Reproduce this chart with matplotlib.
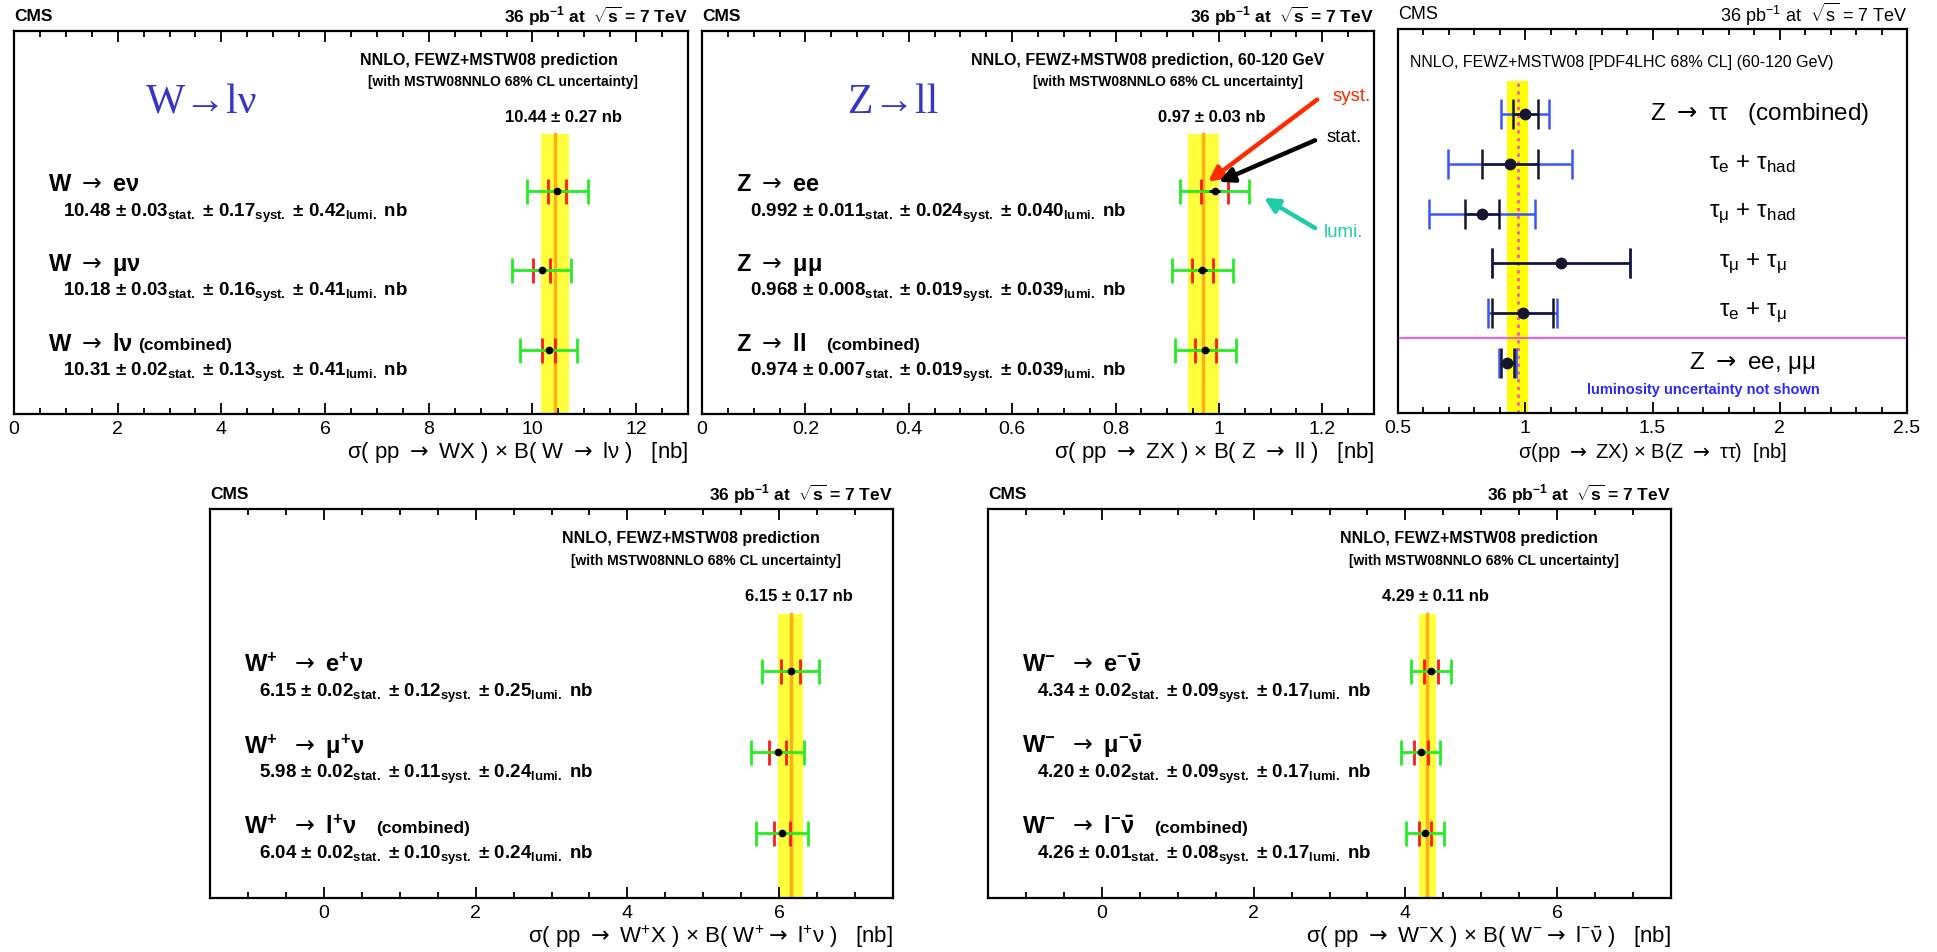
import numpy as np
import matplotlib.pyplot as plt
from matplotlib import font_manager
from matplotlib.ticker import MultipleLocator, FuncFormatter

# narrow bold sans for the ROOT-style panels, plain sans for the tau panel
installed = {f.name for f in font_manager.fontManager.ttflist}
narrow = "Liberation Sans Narrow" if "Liberation Sans Narrow" in installed else "Liberation Sans"
NARROW = [narrow, "DejaVu Sans"]
PLAIN = ["Liberation Sans", "DejaVu Sans"]

plt.rcParams["font.family"] = NARROW
plt.rcParams["mathtext.fontset"] = "custom"
plt.rcParams["mathtext.default"] = "regular"

TO = r"$\mathrm{\rightarrow}$"

# ---- measurements (nb) ----
w_labels = [f"W {TO} eν", f"W {TO} μν", f"W {TO} lν"]
w_xsec = [10.48, 10.18, 10.31]
w_stat = [0.03, 0.03, 0.02]
w_syst = [0.17, 0.16, 0.13]
w_lumi = [0.42, 0.41, 0.41]
w_theory = [10.44, 0.27]

z_labels = [f"Z {TO} ee", f"Z {TO} μμ", f"Z {TO} ll"]
z_xsec = [0.992, 0.968, 0.974]
z_stat = [0.011, 0.008, 0.007]
z_syst = [0.024, 0.019, 0.019]
z_lumi = [0.040, 0.039, 0.039]
z_theory = [0.97, 0.03]

wp_labels = [f"W$^{{+}}$  {TO} e$^{{+}}$ν", f"W$^{{+}}$  {TO} μ$^{{+}}$ν", f"W$^{{+}}$  {TO} l$^{{+}}$ν"]
wp_xsec = [6.15, 5.98, 6.04]
wp_stat = [0.02, 0.02, 0.02]
wp_syst = [0.12, 0.11, 0.10]
wp_lumi = [0.25, 0.24, 0.24]
wp_theory = [6.15, 0.17]

wm_labels = [f"W$^{{-}}$  {TO} e" + r"$^{-}\bar{\nu}$",
             f"W$^{{-}}$  {TO} μ" + r"$^{-}\bar{\nu}$",
             f"W$^{{-}}$  {TO} l" + r"$^{-}\bar{\nu}$"]
wm_xsec = [4.34, 4.20, 4.26]
wm_stat = [0.02, 0.02, 0.01]
wm_syst = [0.09, 0.09, 0.08]
wm_lumi = [0.17, 0.17, 0.17]
wm_theory = [4.29, 0.11]

tau_labels = [f"Z {TO} ττ   (combined)",
              r"τ$_{e}$ + τ$_{had}$",
              r"τ$_{\mu}$ + τ$_{had}$",
              r"τ$_{\mu}$ + τ$_{\mu}$",
              r"τ$_{e}$ + τ$_{\mu}$",
              f"Z {TO} ee, μμ"]
tau_xsec = [1.00, 0.94, 0.83, 1.14, 0.99, 0.93]
tau_stat = [0.05, 0.11, 0.067, 0.27, 0.12, 0.025]
tau_total = [0.094, 0.245, 0.207, 0.27, 0.135, 0.032]
tau_theory = [0.97, 0.04]

LUMI_TEXT = r"36 pb$^{-1}$ at  $\sqrt{s}$ = 7 TeV"

fig = plt.figure(figsize=(19.37, 9.52), dpi=100)
fig.patch.set_facecolor("white")


def pixel_axes(left, top, right, bottom):
    W, H = 1937, 952
    return fig.add_axes([left / W, 1 - bottom / H, (right - left) / W, (bottom - top) / H])


def style_axes(ax, xlim, ylim, major, minor, family):
    ax.set_xlim(*xlim)
    ax.set_ylim(*ylim)
    ax.set_yticks([])
    ax.xaxis.set_major_locator(MultipleLocator(major))
    ax.xaxis.set_minor_locator(MultipleLocator(minor))
    ax.xaxis.set_major_formatter(FuncFormatter(lambda v, p: f"{v:g}"))
    ax.tick_params(axis="x", which="both", direction="in", top=True, bottom=True,
                   labelsize=14, pad=5, labelfontfamily=family)
    ax.tick_params(axis="x", which="major", length=8, width=1.3)
    ax.tick_params(axis="x", which="minor", length=4, width=1.3)
    for s in ax.spines.values():
        s.set_linewidth(1.6)


def xsec_panel(ax, labels, xsec, stat, syst, lumi, theory, xlim, major, minor,
               digits, header, big_title, xlabel, gap):
    Y_LOW, Y_HIGH, BAND_TOP = 0.2, 5.0, 3.71
    style_axes(ax, xlim, (Y_LOW, Y_HIGH), major, minor, NARROW)
    xsec, stat, syst, lumi = map(np.asarray, (xsec, stat, syst, lumi))
    rows = np.arange(len(xsec), 0, -1)

    # theory band with central value
    mid, err = theory
    ax.fill_betweenx([Y_LOW, BAND_TOP], mid - err, mid + err, color="#ffff3c", lw=0, zorder=1)
    ax.plot([mid, mid], [Y_LOW, BAND_TOP], color="#ffae1a", lw=2.5, zorder=2)
    ax.annotate(f"{mid:.2f} ± {err:.2f} nb", xy=(mid, 3.92), xytext=(6, 0),
                textcoords="offset points", ha="center", va="center",
                fontsize=12, fontweight="bold")

    # stat (+) syst in red, plus lumi in green, stat in black
    inner = np.hypot(stat, syst)
    outer = inner + lumi
    ax.errorbar(xsec, rows, xerr=inner, fmt="none", ecolor="#ff1a1a", elinewidth=2,
                capsize=9, capthick=2, zorder=3)
    ax.errorbar(xsec, rows, xerr=outer, fmt="none", ecolor="#22ee22", elinewidth=2,
                capsize=9, capthick=2, zorder=4)
    px_per_unit = ax.bbox.width / (xlim[1] - xlim[0])
    stat_caps = 9 if np.min(stat) * px_per_unit > 4 else 0
    ax.errorbar(xsec, rows, xerr=stat, fmt="o", color="black", ms=4.5, elinewidth=2,
                capsize=stat_caps, capthick=2, zorder=5)

    tr = ax.get_yaxis_transform()
    fmt = f".{digits}f"
    for i, r in enumerate(rows):
        lab = ax.text(0.05, r + 0.07, labels[i], transform=tr, ha="left", va="center",
                      fontsize=17, fontweight="bold")
        if i == len(rows) - 1:
            ax.annotate("(combined)", xy=(1, 0.45), xycoords=lab, xytext=(gap, 0),
                        textcoords="offset points", ha="left", va="center",
                        fontsize=12.5, fontweight="bold")
        value = (f"{xsec[i]:{fmt}} ± {stat[i]:{fmt}}$_{{stat.}}$ ± {syst[i]:{fmt}}$_{{syst.}}$"
                 f" ± {lumi[i]:{fmt}}$_{{lumi.}}$ nb")
        ax.text(0.072, r - 0.28, value, transform=tr, ha="left", va="center",
                fontsize=13.5, fontweight="bold")

    ax.text(header[2], 4.63, header[0], transform=tr, ha="center", va="center",
            fontsize=11.5, fontweight="bold")
    ax.text(header[3], 4.36, header[1], transform=tr, ha="center", va="center",
            fontsize=10, fontweight="bold")
    if big_title:
        ax.text(big_title[1], 4.10, big_title[0], transform=tr, ha="center", va="center",
                fontsize=30, family=["Liberation Serif", "DejaVu Serif"], color="#3535c8")

    ax.text(0.0, 1.038, "CMS", transform=ax.transAxes, ha="left", va="center",
            fontsize=12.5, fontweight="bold")
    ax.text(1.0, 1.038, LUMI_TEXT, transform=ax.transAxes, ha="right", va="center",
            fontsize=12.5, fontweight="bold")
    ax.text(1.0, -0.10, xlabel, transform=ax.transAxes, ha="right", va="center", fontsize=16)


PRED = "NNLO, FEWZ+MSTW08 prediction"
UNC = "[with MSTW08NNLO 68% CL uncertainty]"

ax1 = pixel_axes(14, 31, 688, 414)
xsec_panel(ax1, w_labels, w_xsec, w_stat, w_syst, w_lumi, w_theory, (0, 13), 2, 0.5, 2,
           (PRED, UNC, 0.704, 0.726), ("W→lν", 0.278),
           f"σ( pp {TO} WX ) × B( W {TO} lν )   [nb]", 4)

ax2 = pixel_axes(702, 31, 1374, 414)
xsec_panel(ax2, z_labels, z_xsec, z_stat, z_syst, z_lumi, z_theory, (0, 1.3), 0.2, 0.05, 3,
           (PRED + ", 60-120 GeV", UNC, 0.663, 0.693), ("Z→ll", 0.285),
           f"σ( pp {TO} ZX ) × B( Z {TO} ll )   [nb]", 15)

# arrows explaining the error bar colours
arrows = [("syst.", "#ff2a00", (1.19, 4.14), (0.979, 3.11), (1.219, 4.18)),
          ("stat.", "black", (1.186, 3.63), (1.0, 3.11), (1.208, 3.67)),
          ("lumi.", "#1fcca8", (1.186, 2.53), (1.087, 2.91), (1.202, 2.47))]
for name, col, tail, head, pos in arrows:
    ax2.annotate("", xy=head, xytext=tail,
                 arrowprops=dict(arrowstyle="-|>", color=col, lw=3.2, mutation_scale=22,
                                 shrinkA=0, shrinkB=0))
    ax2.text(pos[0], pos[1], name, color=col, fontsize=13.5, ha="left", va="center")

ax4 = pixel_axes(210, 509, 893, 898)
xsec_panel(ax4, wp_labels, wp_xsec, wp_stat, wp_syst, wp_lumi, wp_theory, (-1.5, 7.5), 2, 0.5, 2,
           (PRED, UNC, 0.704, 0.726), None,
           f"σ( pp {TO} W$^{{+}}$X ) × B( W$^{{+}}${TO} l$^{{+}}$ν )   [nb]", 14)

ax5 = pixel_axes(988, 509, 1671, 898)
xsec_panel(ax5, wm_labels, wm_xsec, wm_stat, wm_syst, wm_lumi, wm_theory, (-1.5, 7.5), 2, 0.5, 2,
           (PRED, UNC, 0.704, 0.726), None,
           f"σ( pp {TO} W$^{{-}}$X ) × B( W$^{{-}}${TO} l" + r"$^{-}\bar{\nu}$ )   [nb]", 14)

"""
Z -> tau tau panel: black stat bars, blue stat+syst bars, ee/mumu reference below the line.
"""
ax3 = pixel_axes(1398, 29, 1907, 413)
style_axes(ax3, (0.5, 2.5), (0, 7.7), 0.5, 0.1, PLAIN)
tau_rows = np.arange(len(tau_xsec), 0, -1)
t_mid, t_err = tau_theory
ax3.fill_betweenx([0, 6.66], t_mid - t_err, t_mid + t_err, color="#ffff00", lw=0, zorder=1)
ax3.plot([t_mid, t_mid], [0, 6.66], color="#ff4fd0", lw=2, ls=(0, (1.2, 1.6)), zorder=2)
ax3.axhline(1.5, color="#ff33ff", lw=1.2, zorder=2)
ax3.errorbar(tau_xsec, tau_rows, xerr=tau_total, fmt="none", ecolor="#3a55ff", elinewidth=1.8,
             capsize=11, capthick=1.8, zorder=3)
ax3.errorbar(tau_xsec, tau_rows, xerr=tau_stat, fmt="o", color="#151530", ms=7.5,
             elinewidth=1.8, capsize=11, capthick=1.8, zorder=4)

tr3 = ax3.get_yaxis_transform()
for i, r in enumerate(tau_rows):
    if i == 0:
        ax3.text(0.495, r, tau_labels[i], transform=tr3, ha="left", va="center",
                 fontsize=17.5, family=PLAIN)
    else:
        ax3.text(0.697, r, tau_labels[i], transform=tr3, ha="center", va="center",
                 fontsize=17.5, family=PLAIN)
ax3.text(0.599, 0.46, "luminosity uncertainty not shown", transform=tr3, ha="center",
         va="center", fontsize=10.5, fontweight="bold", color="#2a2aff", family=PLAIN)
ax3.text(0.024, 7.02, "NNLO, FEWZ+MSTW08 [PDF4LHC 68% CL] (60-120 GeV)", transform=tr3,
         ha="left", va="center", fontsize=11.5, family=PLAIN)
ax3.text(0.0, 1.037, "CMS", transform=ax3.transAxes, ha="left", va="center",
         fontsize=13, family=PLAIN)
ax3.text(1.0, 1.037, LUMI_TEXT, transform=ax3.transAxes, ha="right", va="center",
         fontsize=13, family=PLAIN)
ax3.text(0.5, -0.104, f"σ(pp {TO} ZX) × B(Z {TO} ττ)  [nb]", transform=ax3.transAxes,
         ha="center", va="center", fontsize=14.5, family=PLAIN)

plt.savefig("out.png", dpi=100, facecolor="white")
